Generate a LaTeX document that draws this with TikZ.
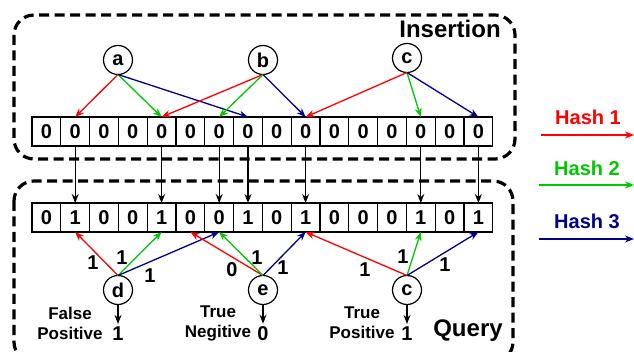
\documentclass[tikz,border=0pt]{standalone}
\usepackage{fontspec}
\setmainfont{Liberation Sans}
\usetikzlibrary{arrows.meta}
\definecolor{hred}{RGB}{255,0,0}
\definecolor{hgreen}{RGB}{0,200,0}
\definecolor{hblue}{RGB}{0,0,140}
\begin{document}
\begin{tikzpicture}[x=1pt,y=-1pt,
  cell/.style={draw,line width=1.1pt,minimum width=28.8pt,minimum height=29pt,inner sep=0pt,outer sep=0pt,font=\fontsize{20}{24}\selectfont\bfseries},
  elem/.style={draw,circle,line width=1.2pt,minimum size=29pt,inner sep=0pt,outer sep=0pt,font=\fontsize{20}{24}\selectfont\bfseries},
  arr/.style={line width=1.3pt,-{Stealth[length=9pt,width=7pt]}},
  vline/.style={line width=1.1pt,-{Stealth[length=9pt,width=7pt]}},
  zone/.style={line width=3.2pt,dash pattern=on 10pt off 5.5pt,rounded corners=20pt},
  big/.style={font=\fontsize{24}{28}\selectfont\bfseries,inner sep=0pt},
  num/.style={font=\fontsize{20}{24}\selectfont\bfseries,inner sep=0pt},
  verdict/.style={font=\fontsize{17}{20}\selectfont\bfseries,align=center,inner sep=0pt},
  hashlbl/.style={font=\fontsize{20}{24}\selectfont\bfseries,inner sep=0pt}
]
\useasboundingbox (0,0) rectangle (634,352);

% zones
\draw[zone] (14,15) rectangle (515,159);
\draw[zone] (14,181) rectangle (513,362);
\node[big,anchor=base] (ins) at (450,38) {Insertion};
\node[big,anchor=base] (qry) at (468,337) {Query};

% arrays
\foreach \v [count=\i from 0] in {0,0,0,0,0,0,0,0,0,0,0,0,0,0,0,0}
  \node[cell] (t\i) at ({32+28.8*(\i+0.5)},131.5) {\v};
\foreach \v [count=\i from 0] in {0,1,0,0,1,0,0,1,0,1,0,0,0,1,0,1}
  \node[cell] (q\i) at ({32+28.8*(\i+0.5)},217.5) {\v};

% transfer arrows
\foreach \i in {1,4,6,7,9,13,15}
  \draw[vline] (t\i.south) -- (q\i.north);

% insertion elements
\node[elem] (a) at (118,60) {a};
\node[elem] (b) at (263,60) {b};
\node[elem] (c) at (407,58) {c};

\draw[arr,hred] (a.south) -- (t1.north);
\draw[arr,hgreen] (a.south) -- (t4.north);
\draw[arr,hblue] (a.south) -- (t7.north);
\draw[arr,hred] (b.south) -- (t4.north);
\draw[arr,hgreen] (b.south) -- (t6.north);
\draw[arr,hblue] (b.south) -- (t9.north);
\draw[arr,hred] (c.south) -- (t9.north);
\draw[arr,hgreen] (c.south) -- (t13.north);
\draw[arr,hblue] (c.south) -- (t15.north);

% query elements
\node[elem] (d) at (118,290) {d};
\node[elem] (e) at (263,290) {e};
\node[elem] (cq) at (407,290) {c};

\draw[arr,hred] (d.north) -- (q1.south);
\draw[arr,hgreen] (d.north) -- (q4.south);
\draw[arr,hblue] (d.north) -- (q6.south);
\draw[arr,hred] (e.north) -- (q5.south);
\draw[arr,hgreen] (e.north) -- (q6.south);
\draw[arr,hblue] (e.north) -- (q9.south);
\draw[arr,hred] (cq.north) -- (q9.south);
\draw[arr,hgreen] (cq.north) -- (q13.south);
\draw[arr,hblue] (cq.north) -- (q15.south);

% bit labels
\node[num] (ld1) at (93,263) {1};
\node[num] (ld2) at (122,258) {1};
\node[num] (ld3) at (150,276) {1};
\node[num] (le1) at (232,270) {0};
\node[num] (le2) at (257,258) {1};
\node[num] (le3) at (283,268) {1};
\node[num] (lc1) at (365,270) {1};
\node[num] (lc2) at (403,257) {1};
\node[num] (lc3) at (445,265) {1};

% outputs
\node[num] (od) at (118,334) {1};
\node[num] (oe) at (263,334) {0};
\node[num] (oc) at (407,334) {1};
\draw[vline,shorten >=3pt] (d.south) -- (od.north);
\draw[vline,shorten >=3pt] (e.south) -- (oe.north);
\draw[vline,shorten >=3pt] (cq.south) -- (oc.north);

\node[verdict] (vd) at (70,323) {False\\Positive};
\node[verdict] (ve) at (218,323) {True\\Negitive};
\node[verdict] (vc) at (362,323) {True\\Positive};

% legend
\node[hashlbl,text=hred] (h1) at (588,117) {Hash 1};
\node[hashlbl,text=hgreen] (h2) at (587,168) {Hash 2};
\node[hashlbl,text=hblue] (h3) at (587,221) {Hash 3};
\coordinate (h1s) at (541,135); \coordinate (h1e) at (634,135);
\coordinate (h2s) at (539,185); \coordinate (h2e) at (634,185);
\coordinate (h3s) at (539,239); \coordinate (h3e) at (634,239);
\draw[arr,hred] (h1s) -- (h1e);
\draw[arr,hgreen] (h2s) -- (h2e);
\draw[arr,hblue] (h3s) -- (h3e);
\end{tikzpicture}
\end{document}
